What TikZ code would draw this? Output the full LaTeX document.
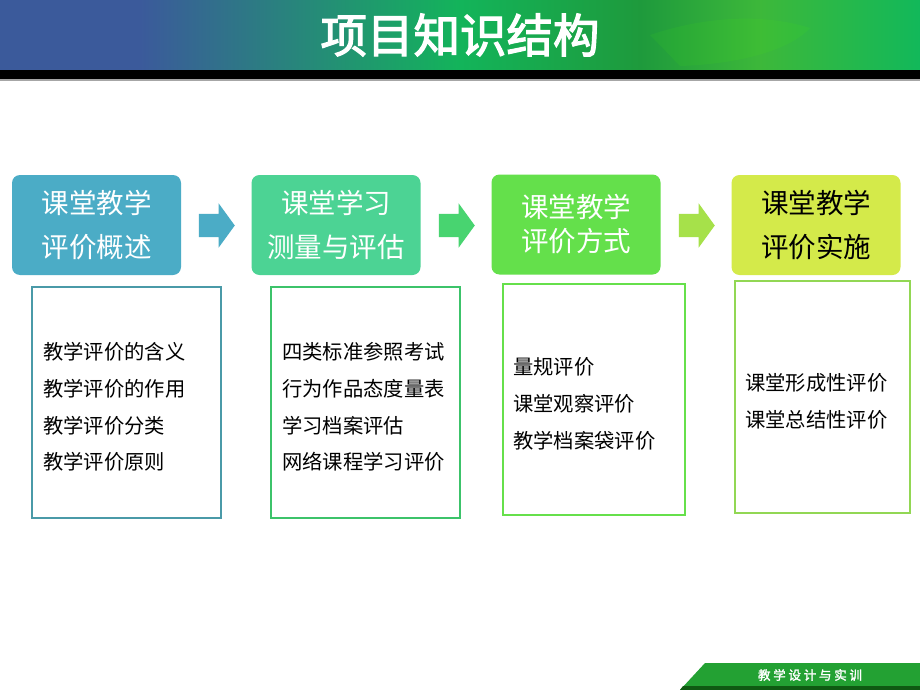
\documentclass[tikz,border=0pt]{standalone}
\usepackage{fontspec}
\usetikzlibrary{shapes.arrows}
\newfontfamily\cjk{Noto Sans CJK SC}
\newfontfamily\cjktitle[FakeBold=2.5]{Noto Sans CJK SC}
\newfontfamily\cjkfoot[FakeBold=2,LetterSpace=22]{Noto Sans CJK SC}
\definecolor{hblue}{HTML}{3B5A9B}
\definecolor{hgreen}{HTML}{13B45A}
\definecolor{hdark}{HTML}{1E9A3C}
\definecolor{hlight}{HTML}{3DB83A}
\definecolor{hright}{HTML}{12B85A}
\definecolor{cA}{HTML}{4BACC6}
\definecolor{cB}{HTML}{4CD394}
\definecolor{cC}{HTML}{64E04B}
\definecolor{cD}{HTML}{D4EA4A}
\definecolor{aB}{HTML}{48D470}
\definecolor{aC}{HTML}{A6E14A}
\definecolor{lA}{HTML}{4A9AA8}
\definecolor{lB}{HTML}{3CC36A}
\definecolor{lC}{HTML}{66E04B}
\definecolor{lD}{HTML}{92D754}
\definecolor{fgreen}{HTML}{23A133}
\definecolor{fdark}{HTML}{0F5A12}
\tikzset{
  topbox/.style={rounded corners=8pt, minimum width=169pt, minimum height=100pt, inner sep=0pt,
    align=center, font=\cjk\fontsize{27.5}{44}\selectfont, text=white},
  listbox/.style={draw=#1, line width=2pt, inner sep=0pt},
  listtext/.style={anchor=west, align=left, inner sep=0pt, font=\cjk\fontsize{20.3}{36.7}\selectfont, text=black},
  blockarrow/.style={single arrow, fill=#1, draw=none, minimum width=44pt, minimum height=36pt,
    inner xsep=0pt, inner ysep=11.5pt,
    single arrow head extend=10.5pt, single arrow tip angle=108, single arrow head indent=0pt},
}
\begin{document}
\begin{tikzpicture}[x=1pt,y=-1pt]
\useasboundingbox (0,0) rectangle (920,690);
\fill[white] (0,0) rectangle (920,690);
% header band
\fill[hblue] (0,0) rectangle (141,70);
\shade[left color=hblue, right color=hgreen] (140,0) rectangle (461,70);
\shade[left color=hgreen, right color=hdark] (460,0) rectangle (641,70);
\shade[left color=hdark, right color=hlight] (640,0) rectangle (761,70);
\shade[left color=hlight, right color=hright] (760,0) rectangle (920,70);
\fill[green!70!yellow, opacity=0.08] (650,35) .. controls (700,18) and (760,12) .. (810,28) .. controls (790,50) and (740,64) .. (680,66) -- cycle;
\fill[black] (0,70) rectangle (920,79);
\fill[gray!70] (0,79) rectangle (920,81);
\node[font=\cjktitle\fontsize{46.5}{46.5}\selectfont, text=white, inner sep=0pt] (title) at (460,35) {项目知识结构};
% top boxes
\node[topbox, fill=cA] (b1) at (96.5,225) {课堂教学\\评价概述};
\node[topbox, fill=cB] (b2) at (336,225) {课堂学习\\测量与评估};
\node[topbox, fill=cC, font=\cjk\fontsize{27.5}{34}\selectfont] (b3) at (576,224.5) {课堂教学\\评价方式};
\node[topbox, fill=cD, text=black] (b4) at (816,225) {课堂教学\\评价实施};
% arrows
\node[blockarrow=cA] (a1) at (212.5,225.5) {};
\node[blockarrow=aB] (a2) at (452.5,225.5) {};
\node[blockarrow=aC] (a3) at (692.5,225.5) {};
% lower boxes
\node[listbox=lA, minimum width=189pt, minimum height=231pt] (l1) at (126.5,402.5) {};
\node[listbox=lB, minimum width=189pt, minimum height=231pt] (l2) at (365.5,402.5) {};
\node[listbox=lC, minimum width=182pt, minimum height=231pt] (l3) at (594,399.5) {};
\node[listbox=lD, minimum width=175pt, minimum height=232pt] (l4) at (822.5,397) {};
\node[listtext] (t1) at (43,407) {教学评价的含义\\教学评价的作用\\教学评价分类\\教学评价原则};
\node[listtext] (t2) at (282,407) {四类标准参照考试\\行为作品态度量表\\学习档案评估\\网络课程学习评价};
\node[listtext] (t3) at (513,404) {量规评价\\课堂观察评价\\教学档案袋评价};
\node[listtext] (t4) at (745,401.5) {课堂形成性评价\\课堂总结性评价};
% footer
\fill[fgreen] (680,690) -- (705,663) -- (920,663) -- (920,690) -- cycle;
\fill[fdark] (683,686) -- (920,686) -- (920,690) -- (680,690) -- cycle;
\node[font=\cjkfoot\fontsize{12.5}{12.5}\selectfont, text=white, inner sep=0pt] (foot) at (810,675) {教学设计与实训};
\end{tikzpicture}
\end{document}
